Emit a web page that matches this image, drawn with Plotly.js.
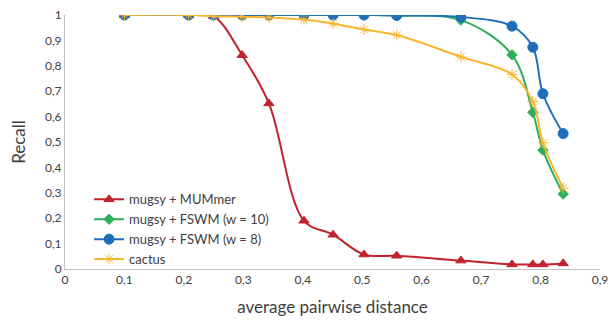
<!DOCTYPE html>
<html>
<head>
<meta charset="utf-8">
<script src="https://cdn.plot.ly/plotly-3.0.1.min.js"></script>
<style>html,body{margin:0;padding:0;background:#fff}#chart{width:611px;height:320px}</style>
</head>
<body>
<div id="chart"></div>
<script>
const distance = [0.1, 0.208, 0.25, 0.298, 0.343, 0.402, 0.451, 0.503, 0.558, 0.666, 0.752, 0.787, 0.804, 0.838];
const mummer = [1, 1, 0.995, 0.842, 0.652, 0.19, 0.135, 0.057, 0.052, 0.033, 0.018, 0.018, 0.018, 0.022];
const fswm10 = [1, 1, 1, 1, 1, 1, 1, 1, 0.998, 0.98, 0.843, 0.617, 0.468, 0.295];
const fswm8 = [1, 1, 1, 1, 1, 1, 1, 1, 0.998, 0.992, 0.956, 0.873, 0.69, 0.533];
const cactus = [1, 1, 0.995, 0.993, 0.99, 0.982, 0.966, 0.943, 0.921, 0.835, 0.766, 0.66, 0.497, 0.318];
const seriesNames = ["mugsy + MUMmer", "mugsy + FSWM (w = 10)", "mugsy + FSWM (w = 8)", "cactus"];

const FONT = "Lato, 'Open Sans', 'Liberation Sans', sans-serif";
function tr(y, name, color, symbol, size) {
  return {
    x: distance, y: y, name: name, type: "scatter", mode: "lines+markers",
    line: {color: color, width: 2, shape: "spline", smoothing: 1},
    marker: {color: color, symbol: symbol, size: size, line: {color: color, width: 1}}
  };
}
const data = [
  tr(mummer, seriesNames[0], "#C0232C", "triangle-up", 9),
  tr(fswm10, seriesNames[1], "#2EAD5B", "diamond", 8),
  tr(fswm8, seriesNames[2], "#1F6EB8", "circle", 10),
  tr(cactus, seriesNames[3], "#F9B52E", "asterisk-open", 9)
];
const layout = {
  width: 611, height: 320,
  margin: {l: 65, r: 11, t: 15, b: 51},
  paper_bgcolor: "#fff", plot_bgcolor: "#fff",
  separators: ", ",
  font: {family: FONT, size: 12, color: "#404040"},
  showlegend: true,
  legend: {x: 0.045, y: 0.333, xanchor: "left", yanchor: "top", bgcolor: "rgba(0,0,0,0)",
           font: {family: FONT, size: 13, color: "#404040"}, tracegroupgap: 0, itemwidth: 30},
  xaxis: {range: [0, 0.9], dtick: 0.1, tick0: 0, showgrid: false, zeroline: false,
          showline: true, linecolor: "#BFBFBF", linewidth: 1, ticks: "", ticklen: 0,
          tickfont: {family: FONT, size: 12, color: "#404040"},
          title: {text: "average pairwise distance", font: {family: FONT, size: 17, color: "#404040"}, standoff: 14}},
  yaxis: {range: [0, 1], dtick: 0.1, tick0: 0, showgrid: false, zeroline: false,
          showline: true, linecolor: "#BFBFBF", linewidth: 1, ticks: "", ticklen: 0,
          tickfont: {family: FONT, size: 12, color: "#404040"},
          title: {text: "Recall", font: {family: FONT, size: 17, color: "#404040"}, standoff: 14}}
};
Plotly.newPlot("chart", data, layout, {displayModeBar: false, staticPlot: true});
</script>
</body>
</html>
